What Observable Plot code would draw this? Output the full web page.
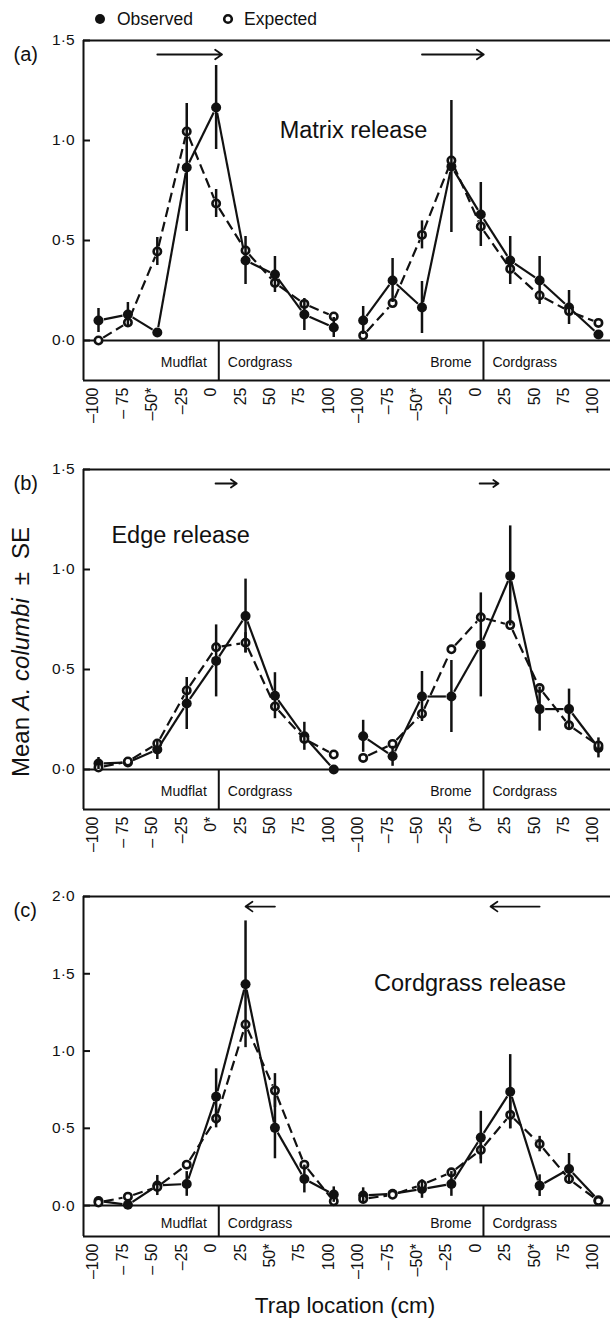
<!DOCTYPE html>
<html><head><meta charset="utf-8">
<script src="https://cdn.jsdelivr.net/npm/d3@7"></script>
<script src="https://cdn.jsdelivr.net/npm/@observablehq/plot@0.6"></script>
<style>
body{margin:0;background:#fff;font-family:"Liberation Sans",Arial,Helvetica,sans-serif;color:#111;}
#wrap{position:relative;width:610px;height:1318px;overflow:hidden;background:#fff;}
.abs{position:absolute;left:0;}
</style></head><body><div id="wrap">
<svg class="abs" style="top:0" width="610" height="40">
  <circle cx="100" cy="19" r="5" fill="#111"/>
  <text x="117" y="25" font-size="17.5" fill="#111">Observed</text>
  <circle cx="228" cy="19" r="3.8" fill="#fff" stroke="#111" stroke-width="2.6"/>
  <text x="244" y="25" font-size="17.5" fill="#111">Expected</text>
</svg>
<svg class="abs" style="top:0" width="50" height="1318">
  <text transform="translate(29,652) rotate(-90)" text-anchor="middle" font-size="24" fill="#111">Mean <tspan font-style="italic">A. columbi</tspan><tspan dx="13">±</tspan><tspan dx="13">SE</tspan></text>
</svg>
<svg class="abs" style="top:1280px" width="610" height="38">
  <text x="345" y="33" text-anchor="middle" font-size="22.5" fill="#111">Trap location (cm)</text>
</svg>
</div>
<script>
// Trap locations (cm), two transects per panel: Mudflat|Cordgrass and Brome|Cordgrass
const locations = [-100, -75, -50, -25, 0, 25, 50, 75, 100];
const transects = ["Mudflat–Cordgrass", "Brome–Cordgrass"];
const habitatLeft = ["Mudflat", "Brome"];
const habitatRight = ["Cordgrass", "Cordgrass"];

// Tick labels (as printed)
const xLabelsA = ["–100","– 75","–50*","–25","0","25","50","75","100","–100","–75","–50*","–25","0","25","50","75","100"];
const xLabelsB = ["–100","– 75","– 50","–25","0*","25","50","75","100","–100","–75","–50","–25","0*","25","50","75","100"];
const xLabelsC = ["–100","– 75","– 50","–25","0","25","50*","75","100","–100","–75","–50*","–25","0","25","50*","75","100"];
const yTicksAB = [0, 0.5, 1.0, 1.5];
const yTicksC = [0, 0.5, 1.0, 1.5, 2.0];

// (a) Matrix release
const obsA   = [0.10,0.13,0.04,0.865,1.165,0.40,0.33,0.13,0.065, 0.10,0.30,0.165,0.87,0.63,0.40,0.30,0.165,0.03];
const obsSEA = [0.06,0.06,0,0.32,0.21,0.12,0.09,0.08,0.05, 0.07,0.11,0.13,0.33,0.16,0.12,0.12,0.085,0];
const expA   = [0.0,0.09,0.445,1.045,0.685,0.45,0.288,0.183,0.12, 0.025,0.187,0.528,0.90,0.57,0.358,0.225,0.147,0.088];
const expSEA = [0,0,0.07,0,0.07,0,0,0,0, 0,0,0.07,0,0,0,0,0,0];

// (b) Edge release
const obsB   = [0.03,0.035,0.10,0.33,0.543,0.767,0.369,0.166,0.0, 0.166,0.066,0.365,0.365,0.623,0.968,0.302,0.302,0.108];
const obsSEB = [0.03,0,0.05,0.13,0.18,0.185,0.115,0.07,0, 0.08,0.05,0.125,0.18,0.26,0.25,0.11,0.1,0.05];
const expB   = [0.01,0.04,0.13,0.395,0.611,0.634,0.315,0.153,0.075, 0.058,0.128,0.279,0.601,0.761,0.722,0.407,0.221,0.12];
const expSEB = [0,0,0,0,0,0.05,0,0,0, 0,0,0,0,0,0,0,0,0];

// (c) Cordgrass release
const obsC   = [0.03,0.005,0.13,0.14,0.705,1.432,0.503,0.172,0.071, 0.065,0.077,0.107,0.14,0.44,0.737,0.129,0.237,0.034];
const obsSEC = [0,0,0.065,0.08,0.18,0.41,0.2,0.09,0.05, 0.05,0,0.06,0.08,0.17,0.24,0.07,0.1,0];
const expC   = [0.02,0.058,0.12,0.265,0.563,1.172,0.744,0.265,0.028, 0.043,0.07,0.135,0.215,0.36,0.587,0.398,0.172,0.03];
const expSEC = [0,0,0,0,0.06,0,0.11,0,0, 0,0,0,0,0.06,0.09,0.05,0,0];

// Movement arrows (from / to trap index)
const arrowsA = [{from: 2, to: 4.2}, {from: 11, to: 13.1}];
const arrowsB = [{from: 3.98, to: 4.7}, {from: 12.96, to: 13.6}];
const arrowsC = [{from: 6, to: 5}, {from: 15, to: 13.33}];

const FONT = '"Liberation Sans", Arial, Helvetica, sans-serif';
const INK = "#111";
const XMIN = -0.51, XMAX = 17.41;
const YMIN = -0.2;
const fmt = v => v.toFixed(1).replace(".", "·");

function panel(cfg) {
  const rows = d3.range(18).map(i => ({
    i, g: i < 9 ? 0 : 1, loc: locations[i % 9],
    obs: cfg.obs[i], obsSE: cfg.obsSE[i], exp: cfg.exp[i], expSE: cfg.expSE[i],
    label: cfg.xLabels[i]
  }));
  const seg = key => rows.slice(0, -1)
    .filter(r => r.g === rows[r.i + 1].g)
    .map(r => ({x1: r.i, x2: r.i + 1, y1: r[key], y2: rows[r.i + 1][key]}));
  const habitats = [0, 1].map(g => ({x: g * 9 + 4.09, left: habitatLeft[g], right: habitatRight[g]}));
  const tickLen = 7 * (XMAX - XMIN) / 527;
  return Plot.plot({
    width: 610, height: 425,
    marginTop: 30, marginBottom: 55, marginLeft: 83, marginRight: 0,
    style: {fontFamily: FONT, background: "white", overflow: "visible", color: INK},
    x: {domain: [XMIN, XMAX], axis: null},
    y: {domain: [YMIN, cfg.yMax], axis: null},
    marks: [
      // frame
      Plot.ruleY([YMIN, cfg.yMax, 0], {stroke: INK, strokeWidth: 2}),
      Plot.ruleX([XMIN], {stroke: INK, strokeWidth: 2}),
      // habitat band
      Plot.ruleX(habitats, {x: "x", y1: YMIN, y2: 0, stroke: INK, strokeWidth: 2}),
      Plot.text(habitats, {x: "x", y: YMIN / 2, text: "left", textAnchor: "end", dx: -12, dy: 2, fontSize: 14, fill: INK}),
      Plot.text(habitats, {x: "x", y: YMIN / 2, text: "right", textAnchor: "start", dx: 9, dy: 2, fontSize: 14, fill: INK}),
      // y axis (inward ticks)
      Plot.ruleY(cfg.yTicks, {x1: XMIN, x2: XMIN + tickLen, stroke: INK, strokeWidth: 2}),
      Plot.text(cfg.yTicks, {y: d => d, frameAnchor: "left", text: fmt, textAnchor: "end", dx: -9, fontSize: 15.5, fill: INK}),
      // x tick labels
      Plot.text(rows, {x: "i", text: "label", frameAnchor: "bottom", rotate: -90, textAnchor: "end", dy: 7, fontSize: 16, fill: INK}),
      // lines
      Plot.arrow(seg("exp"), {x1: "x1", y1: "y1", x2: "x2", y2: "y2", inset: 5.5, headLength: 0, stroke: INK, strokeWidth: 2.2, strokeLinecap: "butt", strokeDasharray: "10,5"}),
      Plot.arrow(seg("obs"), {x1: "x1", y1: "y1", x2: "x2", y2: "y2", inset: 5.5, headLength: 0, stroke: INK, strokeWidth: 2.2, strokeLinecap: "butt"}),
      // points
      Plot.dot(rows, {x: "i", y: "obs", r: 5, fill: INK, stroke: "none"}),
      Plot.dot(rows, {x: "i", y: "exp", r: 3.7, fill: "white", stroke: INK, strokeWidth: 2.6}),
      // error bars (± SE)
      Plot.ruleX(rows.filter(d => d.obsSE > 0), {x: "i", y1: d => d.obs - d.obsSE, y2: d => d.obs + d.obsSE, stroke: INK, strokeWidth: 2.5}),
      Plot.ruleX(rows.filter(d => d.expSE > 0), {x: "i", y1: d => d.exp - d.expSE, y2: d => d.exp + d.expSE, stroke: INK, strokeWidth: 2.5}),
      // movement arrows
      Plot.arrow(cfg.arrows, {x1: "from", x2: "to", y1: cfg.arrowY, y2: cfg.arrowY, stroke: INK, strokeWidth: 1.8, headLength: 7, headAngle: 70}),
      // labels
      Plot.text([cfg.release], {x: cfg.relX, y: cfg.relY, textAnchor: "start", fontSize: 23.5, fill: INK}),
      Plot.text([cfg.letter], {frameAnchor: "top-left", dx: -70, dy: 6, textAnchor: "start", fontSize: 20, fill: INK})
    ]
  });
}

const panels = [
  {top: 10, letter: "(a)", release: "Matrix release", relX: 6.16, relY: 1.05, yMax: 1.5, yTicks: yTicksAB,
   obs: obsA, obsSE: obsSEA, exp: expA, expSE: expSEA, xLabels: xLabelsA, arrows: arrowsA, arrowY: 1.43},
  {top: 439, letter: "(b)", release: "Edge release", relX: 0.44, relY: 1.17, yMax: 1.5, yTicks: yTicksAB,
   obs: obsB, obsSE: obsSEB, exp: expB, expSE: expSEB, xLabels: xLabelsB, arrows: arrowsB, arrowY: 1.43},
  {top: 866, letter: "(c)", release: "Cordgrass release", relX: 9.37, relY: 1.44, yMax: 2.0, yTicks: yTicksC,
   obs: obsC, obsSE: obsSEC, exp: expC, expSE: expSEC, xLabels: xLabelsC, arrows: arrowsC, arrowY: 1.935}
];

const wrap = document.getElementById("wrap");
for (const p of panels) {
  const div = document.createElement("div");
  div.className = "abs";
  div.style.top = p.top + "px";
  div.appendChild(panel(p));
  wrap.insertBefore(div, wrap.firstChild);
}
</script>
</body></html>
